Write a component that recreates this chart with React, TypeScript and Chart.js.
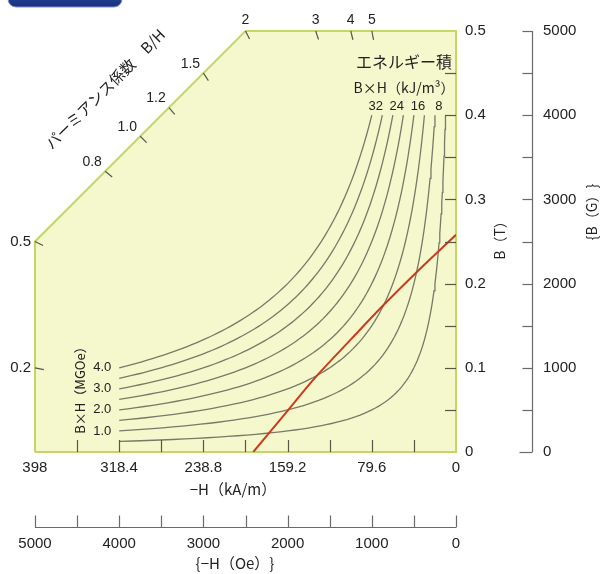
import React, { useEffect, useRef } from "react";
import { Chart, registerables } from "chart.js";
Chart.register(...registerables);

// ---------------- data ----------------
// bottom primary axis: -H in kA/m
const H_KAM_LABELS = [398, 318.4, 238.8, 159.2, 79.6, 0];
const H_KAM_MINOR = [358.2, 318.4, 278.6, 238.8, 199.0, 159.2, 119.4, 79.6, 39.8];
// bottom secondary axis: -H in Oe
const H_OE_LABELS = [5000, 4000, 3000, 2000, 1000, 0];
const H_OE_TICKS = [5000, 4500, 4000, 3500, 3000, 2500, 2000, 1500, 1000, 500, 0];
// right primary axis: B in T
const B_T_LABELS = [0.5, 0.4, 0.3, 0.2, 0.1, 0];
const B_T_TICKS = [0.45, 0.4, 0.35, 0.3, 0.25, 0.2, 0.15, 0.1, 0.05];
// right secondary axis: B in G
const B_G_LABELS = [5000, 4000, 3000, 2000, 1000, 0];
const B_G_TICKS = [5000, 4500, 4000, 3500, 3000, 2500, 2000, 1500, 1000, 500, 0];
// permeance coefficient B/H marks on the frame
const P_LEFT = [0.5, 0.2];
const P_DIAG = [0.8, 1.0, 1.2, 1.5];
const P_TOP = [2, 3, 4, 5];
const P_DIAG_LABELS = ["0.8", "1.0", "1.2", "1.5"];
const P_LEFT_LABELS = ["0.5", "0.2"];
const P_TOP_LABELS = ["2", "3", "4", "5"];
// frame corners (H in Oe, B in G)
const FRAME_H = [5000, 5000, 2500, 0, 0, 5000];
const FRAME_B = [0, 2500, 5000, 5000, 0, 0];
// iso-energy product levels (MGOe)
const ENERGY_LEVELS = [0.5, 1.0, 1.5, 2.0, 2.5, 3.0, 3.5, 4.0];
const ENERGY_MGOE_LABELED = [4.0, 3.0, 2.0, 1.0];
const ENERGY_MGOE_TEXT = ["4.0", "3.0", "2.0", "1.0"];
const ENERGY_KJ_TEXT = ["32", "24", "16", "8"];
const ENERGY_H_START = 4000; // Oe
const ENERGY_B_END = 4000; // G
// demagnetisation curve (H in kA/m, B in T)
const DEMAG_H = [0, 35.6, 68.7, 100.0, 133.3, 160.0, 191.6];
const DEMAG_B = [0.258, 0.2156, 0.1742, 0.1328, 0.088, 0.0477, 0];

const OE_TO_KAM = 0.0795775;

const LATIN = '"Liberation Sans", Arial, sans-serif';
const CJK = '"Noto Sans CJK JP", "Noto Sans", sans-serif';

function curvePoints(e: number) {
  const pts: { x: number; y: number }[] = [];
  const h0 = ENERGY_H_START;
  const h1 = (e * 1e6) / ENERGY_B_END;
  const n = 80;
  for (let i = 0; i <= n; i++) {
    const h = h0 * Math.pow(h1 / h0, i / n);
    pts.push({ x: h, y: (e * 1e6) / h });
  }
  return pts;
}

const permeancePts = () => {
  const out: { p: number; h: number; b: number; text: string; kind: string }[] = [];
  P_LEFT.forEach((p, i) => out.push({ p, h: 5000, b: p * 5000, text: P_LEFT_LABELS[i], kind: "left" }));
  P_DIAG.forEach((p, i) => {
    const h = 7500 / (1 + p);
    out.push({ p, h, b: p * h, text: P_DIAG_LABELS[i], kind: "diag" });
  });
  P_TOP.forEach((p, i) => out.push({ p, h: 5000 / p, b: 5000, text: P_TOP_LABELS[i], kind: "top" }));
  return out;
};

const decor = {
  id: "decor",
  beforeDraw(chart: any) {
    const ctx = chart.ctx;
    ctx.save();
    ctx.fillStyle = "#ffffff";
    ctx.fillRect(0, 0, chart.width, chart.height);
    // top-left badge (cut off)
    const g = ctx.createLinearGradient(0, -12, 0, 8);
    g.addColorStop(0, "#2a4fa8");
    g.addColorStop(1, "#18307a");
    ctx.fillStyle = g;
    ctx.beginPath();
    ctx.roundRect(8, -14, 114, 21, 8);
    ctx.fill();
    ctx.strokeStyle = "#7f95cf";
    ctx.lineWidth = 1;
    ctx.stroke();
    ctx.restore();
  },
  afterDatasetsDraw(chart: any) {
    const { ctx, chartArea: a, scales } = chart;
    const x = scales.x;
    const y = scales.y;
    const xo = scales.xOe;
    const yg = scales.yG;
    const line = (x1: number, y1: number, x2: number, y2: number) => {
      ctx.beginPath();
      ctx.moveTo(x1, y1);
      ctx.lineTo(x2, y2);
      ctx.stroke();
    };
    ctx.save();
    // inner ticks
    ctx.strokeStyle = "#55574a";
    ctx.lineWidth = 1.2;
    H_KAM_MINOR.forEach((v) => {
      const px = Math.round(x.getPixelForValue(v)) + 0.5;
      line(px, a.bottom, px, a.bottom - 12);
    });
    B_T_TICKS.forEach((v) => {
      const py = Math.round(y.getPixelForValue(v)) + 0.5;
      line(a.right, py, a.right - 11, py);
    });
    // permeance ticks (radial, toward origin)
    const ox = xo.getPixelForValue(0);
    const oy = yg.getPixelForValue(0);
    const pp = permeancePts();
    pp.forEach((q) => {
      const px = xo.getPixelForValue(q.h);
      const py = yg.getPixelForValue(q.b);
      const dx = ox - px;
      const dy = oy - py;
      const l = Math.hypot(dx, dy);
      line(px, py, px + (dx / l) * 9, py + (dy / l) * 9);
    });

    // Oe axis
    ctx.strokeStyle = "#6a6a6a";
    ctx.lineWidth = 1.2;
    const yAx = a.bottom + 75.5;
    line(xo.getPixelForValue(5000), yAx, xo.getPixelForValue(0), yAx);
    H_OE_TICKS.forEach((v) => {
      const px = Math.round(xo.getPixelForValue(v)) + 0.5;
      line(px, yAx, px, yAx - 12);
    });
    // G axis
    const xAx = a.right + 76.5;
    line(xAx, yg.getPixelForValue(5000), xAx, yg.getPixelForValue(0));
    B_G_TICKS.forEach((v) => {
      const py = Math.round(yg.getPixelForValue(v)) + 0.5;
      line(xAx, py, xAx - (v === 0 ? 13 : 10), py);
    });

    // ---------- texts ----------
    ctx.fillStyle = "#222";
    ctx.textBaseline = "middle";
    ctx.font = `15px ${LATIN}`;
    ctx.textAlign = "center";
    H_KAM_LABELS.forEach((v) => {
      ctx.fillText(String(v), x.getPixelForValue(v), a.bottom + 16);
    });
    H_OE_LABELS.forEach((v) => {
      ctx.fillText(String(v), xo.getPixelForValue(v), a.bottom + 92);
    });
    ctx.textAlign = "left";
    B_T_LABELS.forEach((v) => {
      ctx.fillText(String(v), a.right + 9, y.getPixelForValue(v));
    });
    B_G_LABELS.forEach((v) => {
      ctx.fillText(String(v), a.right + 87, yg.getPixelForValue(v));
    });

    // permeance labels
    pp.forEach((q) => {
      const px = xo.getPixelForValue(q.h);
      const py = yg.getPixelForValue(q.b);
      if (q.kind === "left") {
        ctx.textAlign = "right";
        ctx.font = `15px ${LATIN}`;
        ctx.fillText(q.text, px - 4, py);
      } else if (q.kind === "diag") {
        ctx.textAlign = "center";
        ctx.font = `14px ${LATIN}`;
        ctx.fillText(q.text, px - 13, py - 9);
      } else {
        ctx.textAlign = "center";
        ctx.font = `14px ${LATIN}`;
        ctx.fillText(q.text, px, py - 11);
      }
    });

    // energy labels (left: MGOe, top: kJ/m3)
    ctx.textAlign = "center";
    ctx.font = `13px ${LATIN}`;
    ENERGY_MGOE_LABELED.forEach((e, i) => {
      const px = xo.getPixelForValue(ENERGY_H_START);
      const py = yg.getPixelForValue((e * 1e6) / ENERGY_H_START);
      ctx.fillText(ENERGY_MGOE_TEXT[i], px - 17, py);
      const tx = xo.getPixelForValue((e * 1e6) / ENERGY_B_END);
      const ty = yg.getPixelForValue(ENERGY_B_END);
      ctx.fillText(ENERGY_KJ_TEXT[i], tx + 4, ty - 9);
    });

    // titles
    ctx.font = `16px ${CJK}`;
    ctx.fillText("エネルギー積", 404, 62);
    ctx.font = `14px ${CJK}`;
    ctx.fillText("B×H（kJ/m³）", 404, 88);
    ctx.font = `15px ${CJK}`;
    ctx.fillText("−H（kA/m）", 233, 489);
    ctx.fillText("{−H（Oe）}", 235, 563);

    const rot = (t: string, cx: number, cy: number, ang: number, font: string) => {
      ctx.save();
      ctx.translate(cx, cy);
      ctx.rotate(ang);
      ctx.font = font;
      ctx.textAlign = "center";
      ctx.fillText(t, 0, 0);
      ctx.restore();
    };
    rot("パーミアンス係数　B/H", 105, 89, -Math.PI / 4, `15px ${CJK}`);
    rot("B×H（MGOe）", 80, 387, -Math.PI / 2, `13px ${CJK}`);
    rot("B（T）", 500, 237, -Math.PI / 2, `14px ${CJK}`);
    rot("{B（G）}", 592, 212, -Math.PI / 2, `14px ${CJK}`);
    ctx.restore();
  },
};

export default function App() {
  const ref = useRef<HTMLCanvasElement>(null);
  useEffect(() => {
    const fillPts = FRAME_H.slice(1, 4).map((h, i) => ({ x: h, y: FRAME_B[i + 1] }));
    const framePts = FRAME_H.map((h, i) => ({ x: h, y: FRAME_B[i] }));
    const energySets = ENERGY_LEVELS.map((e) => ({
      data: curvePoints(e),
      xAxisID: "xOe",
      yAxisID: "yG",
      showLine: true,
      borderColor: "#767a66",
      borderWidth: 1.3,
      pointRadius: 0,
      fill: false,
      tension: 0,
      order: 3,
    }));
    const chart = new Chart(ref.current as HTMLCanvasElement, {
      type: "scatter",
      data: {
        datasets: [
          {
            data: fillPts,
            xAxisID: "xOe",
            yAxisID: "yG",
            showLine: true,
            borderWidth: 0,
            borderColor: "rgba(0,0,0,0)",
            backgroundColor: "#f5f8cd",
            pointRadius: 0,
            fill: "start",
            order: 10,
          },
          {
            data: framePts,
            xAxisID: "xOe",
            yAxisID: "yG",
            showLine: true,
            borderWidth: 2,
            borderColor: "#c4d663",
            pointRadius: 0,
            fill: false,
            clip: 6,
            order: 8,
          },
          ...energySets,
          {
            data: DEMAG_H.map((h, i) => ({ x: h, y: DEMAG_B[i] })),
            xAxisID: "x",
            yAxisID: "y",
            showLine: true,
            borderColor: "#cc3a1c",
            borderWidth: 2,
            pointRadius: 0,
            fill: false,
            tension: 0.35,
            order: 1,
          },
        ] as any,
      },
      options: {
        responsive: false,
        animation: false,
        events: [],
        layout: { padding: { left: 35, top: 31, right: 144, bottom: 122 } },
        plugins: { legend: { display: false }, tooltip: { enabled: false } },
        scales: {
          x: { type: "linear", min: 0, max: 5000 * OE_TO_KAM, reverse: true, display: false },
          y: { type: "linear", min: 0, max: 0.5, display: false },
          xOe: { type: "linear", min: 0, max: 5000, reverse: true, display: false },
          yG: { type: "linear", min: 0, max: 5000, display: false },
        },
      } as any,
      plugins: [decor],
    });
    return () => chart.destroy();
  }, []);
  return (
    <div style={{ position: "fixed", left: 0, top: 0, width: 600, height: 574, background: "#fff" }}>
      <canvas ref={ref} width={600} height={574} style={{ width: 600, height: 574, display: "block" }} />
    </div>
  );
}
